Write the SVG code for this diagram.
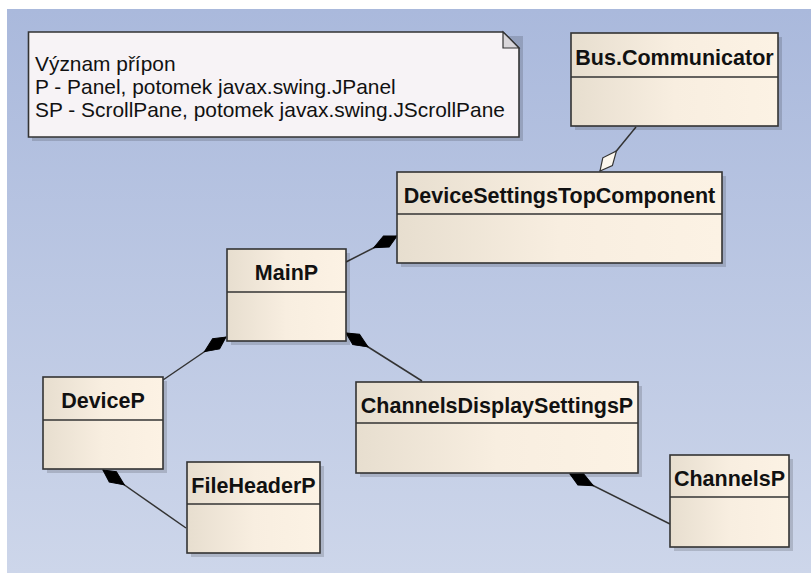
<svg xmlns="http://www.w3.org/2000/svg" width="811" height="573" viewBox="0 0 811 573">
<defs>
<linearGradient id="bg" x1="0" y1="0" x2="0" y2="1">
<stop offset="0" stop-color="#AAB9DC"/>
<stop offset="1" stop-color="#CDD6EA"/>
</linearGradient>
<linearGradient id="boxfill" x1="0" y1="0" x2="1" y2="0">
<stop offset="0" stop-color="#E7DECF"/>
<stop offset="0.5" stop-color="#F8EEE0"/>
<stop offset="1" stop-color="#FCF2E4"/>
</linearGradient>
<marker id="filled" markerUnits="userSpaceOnUse" markerWidth="30" markerHeight="16" refX="0" refY="8" orient="auto" overflow="visible">
<polygon points="0,8 12,1.8 26,8 12,14.2" fill="#000" stroke="#000" stroke-width="1"/>
</marker>
<marker id="hollow" markerUnits="userSpaceOnUse" markerWidth="30" markerHeight="16" refX="0" refY="8" orient="auto" overflow="visible">
<polygon points="0,8 12,1.8 26,8 12,14.2" fill="#FCF7EE" stroke="#333" stroke-width="1.2"/>
</marker>
</defs>
<style>
.shadow{fill:#000;fill-opacity:0.15}
.box{fill:url(#boxfill);stroke:#333;stroke-width:1.6}
.div{stroke:#333;stroke-width:1.4}
.title{font-family:"Liberation Sans",Arial,sans-serif;font-weight:bold;font-size:21.5px;fill:#111;text-anchor:middle}
.note{font-family:"Liberation Sans",Arial,sans-serif;font-size:20.9px;fill:#111}
.conn{fill:none;stroke:#333;stroke-width:1.5}
</style>
<rect x="0" y="0" width="811" height="573" fill="#FFFFFF"/>
<rect x="7" y="9" width="804" height="564" fill="url(#bg)"/>

<g id="note">
<polygon class="shadow" points="32,36 523,36 523,141 32,141"/>
<polygon points="28.5,32 503,32 519,48 519,137 28.5,137" fill="#F7F3F6" stroke="#333" stroke-width="1.6"/>
<polygon points="503,32 503,48 519,48" fill="#D9D6DA" stroke="#333" stroke-width="1.2"/>
<text class="note" x="35" y="71">Význam přípon</text>
<text class="note" x="35" y="94">P - Panel, potomek javax.swing.JPanel</text>
<text class="note" x="35" y="117">SP - ScrollPane, potomek javax.swing.JScrollPane</text>
</g>

<g id="connectors">
<path class="conn" d="M600,171 L636,127" marker-start="url(#hollow)"/>
<path class="conn" d="M397,236 L346,262" marker-start="url(#filled)"/>
<path class="conn" d="M226,337 L163,380" marker-start="url(#filled)"/>
<path class="conn" d="M346,333 L422,381" marker-start="url(#filled)"/>
<path class="conn" d="M103,470 L186,528" marker-start="url(#filled)"/>
<path class="conn" d="M570,474 L670,524" marker-start="url(#filled)"/>
</g>

<g id="bus-communicator">
<rect class="shadow" x="575" y="37" width="207" height="93"/>
<rect class="box" x="571" y="33" width="207" height="93"/>
<line class="div" x1="571" y1="77" x2="778" y2="77"/>
<text class="title" x="674.5" y="65">Bus.Communicator</text>
</g>

<g id="device-settings-top-component">
<rect class="shadow" x="401" y="176" width="325" height="91"/>
<rect class="box" x="397" y="172" width="325" height="91"/>
<line class="div" x1="397" y1="214" x2="722" y2="214"/>
<text class="title" x="559.5" y="203">DeviceSettingsTopComponent</text>
</g>

<g id="mainp">
<rect class="shadow" x="231" y="253" width="119" height="92"/>
<rect class="box" x="227" y="249" width="119" height="92"/>
<line class="div" x1="227" y1="292" x2="346" y2="292"/>
<text class="title" x="286.5" y="280">MainP</text>
</g>

<g id="devicep">
<rect class="shadow" x="47" y="381" width="120" height="92"/>
<rect class="box" x="43" y="377" width="120" height="92"/>
<line class="div" x1="43" y1="420" x2="163" y2="420"/>
<text class="title" x="103" y="408">DeviceP</text>
</g>

<g id="fileheaderp">
<rect class="shadow" x="191" y="466" width="133" height="91"/>
<rect class="box" x="187" y="462" width="133" height="91"/>
<line class="div" x1="187" y1="504" x2="320" y2="504"/>
<text class="title" x="253.5" y="493">FileHeaderP</text>
</g>

<g id="channelsdisplaysettingsp">
<rect class="shadow" x="360" y="386" width="282" height="91"/>
<rect class="box" x="356" y="382" width="282" height="91"/>
<line class="div" x1="356" y1="423" x2="638" y2="423"/>
<text class="title" x="497" y="413">ChannelsDisplaySettingsP</text>
</g>

<g id="channelsp">
<rect class="shadow" x="674" y="459" width="119" height="92"/>
<rect class="box" x="670" y="455" width="119" height="92"/>
<line class="div" x1="670" y1="497" x2="789" y2="497"/>
<text class="title" x="729.5" y="486">ChannelsP</text>
</g>
</svg>
